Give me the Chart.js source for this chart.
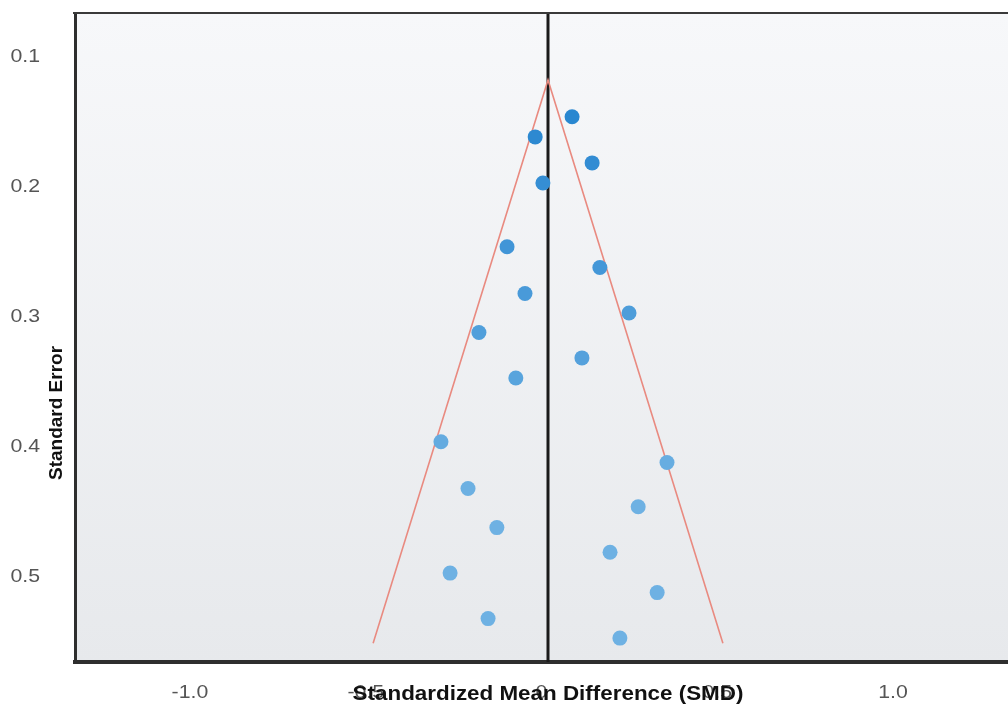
<!DOCTYPE html>
<html>
<head>
<meta charset="utf-8">
<script src="https://cdn.jsdelivr.net/npm/chart.js@4"></script>
<style>
  html, body { margin: 0; padding: 0; background: #fff; }
  #wrap { width: 1008px; height: 706px; position: relative; }
</style>
</head>
<body>
<div id="wrap"><canvas id="funnel"></canvas></div>
<script>
// --- dados ---
const smd = [0.087, -0.018, 0.144, 0.004, -0.098, 0.166, -0.047, 0.249, -0.178, 0.115, -0.073,
             -0.286, 0.357, -0.209, 0.275, -0.127, 0.195, -0.260, 0.329, -0.152, 0.223];
const se = [0.146, 0.1615, 0.1815, 0.197, 0.246, 0.262, 0.282, 0.297, 0.312, 0.3315, 0.347,
            0.396, 0.412, 0.432, 0.446, 0.462, 0.481, 0.497, 0.512, 0.532, 0.547];
const pooledSmd = 0.0185;
const funnelX = [-0.479, 0.0185, 0.516];
const funnelY = [0.551, 0.1177, 0.551];
const xTicks = [-1.0, -0.5, 0, 0.5, 1.0];
const xTickLabels = ['-1.0', '-0.5', '0', '0.5', '1.0'];
const yTicks = [0.1, 0.2, 0.3, 0.4, 0.5];
const yTickLabels = ['0.1', '0.2', '0.3', '0.4', '0.5'];
const xRange = [-1.327, 1.327];
const yRange = [0.0662, 0.5654];

const points = smd.map((x, i) => ({ x: x, y: se[i] }));
const funnel = funnelX.map((x, i) => ({ x: x, y: funnelY[i] }));
const meanLine = [{ x: pooledSmd, y: yRange[0] }, { x: pooledSmd, y: yRange[1] }];

const FONT = '"Liberation Sans", Arial, sans-serif';
const STRETCH = 1.12; // a imagem original está um pouco esticada na horizontal

// cor do ponto conforme o erro padrão
function pointColor(ctx) {
    const v = ctx.raw ? ctx.raw.y : 0.3;
    const t = Math.min(1, Math.max(0, (v - 0.14) / 0.3));
    const r = Math.round(40 + t * (110 - 40));
    const g = Math.round(134 + t * (177 - 134));
    const b = Math.round(208 + t * (227 - 208));
    return `rgb(${r}, ${g}, ${b})`;
}

function stretchedText(ctx, text, x, y, align) {
    ctx.save();
    ctx.translate(x, y);
    ctx.scale(STRETCH, 1);
    ctx.textAlign = align;
    ctx.fillText(text, 0, 0);
    ctx.restore();
}

const framePlugin = {
    id: 'frame',
    beforeDraw(chart) {
        const { ctx, chartArea: a } = chart;
        const grad = ctx.createLinearGradient(0, a.top, 0, a.bottom);
        grad.addColorStop(0, '#f7f8fa');
        grad.addColorStop(1, '#e7e9ec');
        ctx.save();
        ctx.fillStyle = grad;
        ctx.fillRect(a.left, a.top, a.right - a.left, a.bottom - a.top);
        ctx.restore();
    },
    afterDraw(chart) {
        const { ctx, chartArea: a } = chart;
        const xs = chart.scales.x, ys = chart.scales.y;
        ctx.save();
        // borda superior
        ctx.strokeStyle = '#3a3a3a';
        ctx.lineWidth = 2;
        ctx.beginPath();
        ctx.moveTo(a.left - 2, a.top);
        ctx.lineTo(a.right, a.top);
        ctx.stroke();

        // rótulos dos ticks
        ctx.fillStyle = '#555';
        ctx.textBaseline = 'middle';
        ctx.font = `19px ${FONT}`;
        xTicks.forEach((v, i) => {
            stretchedText(ctx, xTickLabels[i], xs.getPixelForValue(v), 693, 'center');
        });
        yTicks.forEach((v, i) => {
            stretchedText(ctx, yTickLabels[i], 40, ys.getPixelForValue(v), 'right');
        });

        // títulos dos eixos
        ctx.fillStyle = '#111';
        ctx.font = `bold 20px ${FONT}`;
        stretchedText(ctx, 'Standardized Mean Difference (SMD)', 548, 694, 'center');
        ctx.translate(57, 413);
        ctx.rotate(-Math.PI / 2);
        ctx.font = `bold 19px ${FONT}`;
        ctx.textAlign = 'center';
        ctx.fillText('Standard Error', 0, 0);
        ctx.restore();
    }
};

new Chart(document.getElementById('funnel'), {
    type: 'scatter',
    data: {
        datasets: [
            {
                label: 'Studies',
                data: points,
                backgroundColor: pointColor,
                borderWidth: 0,
                pointRadius: 7.5,
                pointHoverRadius: 7.5,
                order: 1
            },
            {
                label: 'Funnel',
                type: 'line',
                data: funnel,
                borderColor: '#e98a80',
                borderWidth: 1.6,
                pointRadius: 0,
                fill: false,
                order: 2
            },
            {
                label: 'Pooled',
                type: 'line',
                data: meanLine,
                borderColor: '#1a1a1a',
                borderWidth: 3,
                pointRadius: 0,
                fill: false,
                order: 3
            }
        ]
    },
    options: {
        responsive: true,
        maintainAspectRatio: false,
        animation: false,
        layout: { autoPadding: false, padding: { left: 0, top: 13, right: 0, bottom: 0 } },
        plugins: {
            legend: { display: false },
            tooltip: { enabled: false }
        },
        scales: {
            x: {
                type: 'linear',
                min: xRange[0],
                max: xRange[1],
                afterBuildTicks(scale) { scale.ticks = xTicks.map(v => ({ value: v })); },
                afterFit(scale) { scale.height = 44; },
                grid: { display: false, drawTicks: false },
                border: { display: true, color: '#2e2e2e', width: 4 },
                ticks: { display: false }
            },
            y: {
                type: 'linear',
                reverse: true,
                min: yRange[0],
                max: yRange[1],
                afterBuildTicks(scale) { scale.ticks = yTicks.map(v => ({ value: v })); },
                afterFit(scale) { scale.width = 75; },
                grid: { display: false, drawTicks: false },
                border: { display: true, color: '#2e2e2e', width: 3 },
                ticks: { display: false }
            }
        }
    },
    plugins: [framePlugin]
});
</script>
</body>
</html>
